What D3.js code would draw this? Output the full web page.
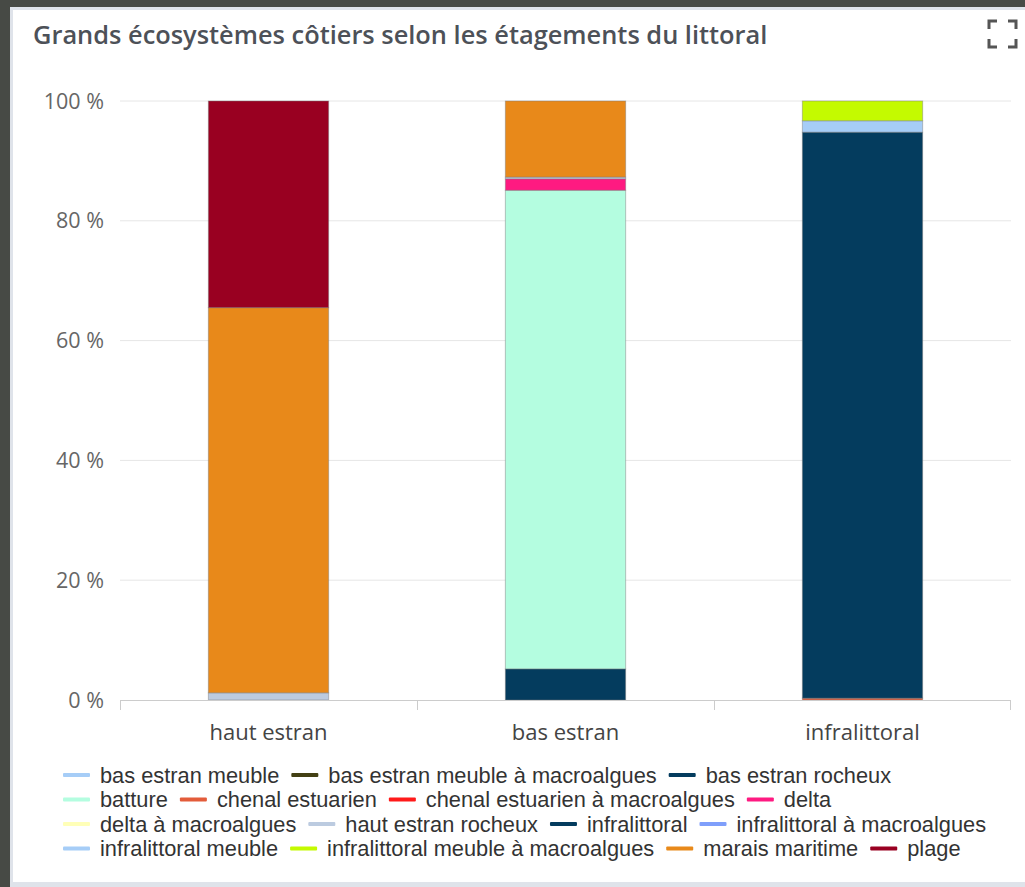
<!DOCTYPE html>
<html>
<head>
<meta charset="utf-8">
<script src="https://cdn.jsdelivr.net/npm/d3@7"></script>
<style>
  body { margin: 0; background: #474a45; }
  svg { display: block; }
</style>
</head>
<body>
<svg id="chart" width="1025" height="887"></svg>
<script>
const categories = ["haut estran", "bas estran", "infralittoral"];

const seriesNames = [
	"bas estran meuble",
	"bas estran meuble à macroalgues",
	"bas estran rocheux",
	"batture",
	"chenal estuarien",
	"chenal estuarien à macroalgues",
	"delta",
	"delta à macroalgues",
	"haut estran rocheux",
	"infralittoral",
	"infralittoral à macroalgues",
	"infralittoral meuble",
	"infralittoral meuble à macroalgues",
	"marais maritime",
	"plage"
];

const seriesColors = [
	"#a6cdf7", "#434014", "#043c5e", "#b4fde0", "#e35c3a",
	"#ff1a1a", "#fe1a81", "#ffffb8", "#bccbe0", "#043c5e",
	"#7f9ffb", "#a6cdf7", "#c4fa00", "#e8891a", "#990021"
];

// percentages per category, one row per series (same order as seriesNames)
const haut = [0, 0, 0, 0, 0, 0, 0, 0, 1.2, 0, 0, 0, 0, 64.3, 34.5];
const bas = [0, 0, 5.2, 79.9, 0, 0, 1.9, 0, 0.3, 0, 0, 0, 0, 12.7, 0];
const infra = [0, 0, 0, 0, 0.3, 0, 0, 0, 0, 94.5, 0, 1.9, 3.3, 0, 0];

const yTicks = [0, 20, 40, 60, 80, 100];

const svg = d3.select("#chart");
const W = 1025, H = 887;

// page frame
svg.append("rect").attr("x", 0).attr("y", 0).attr("width", W).attr("height", H).attr("fill", "#474a45");
svg.append("rect").attr("x", 10).attr("y", 7).attr("width", W).attr("height", H).attr("fill", "#dfe3ea");
svg.append("rect").attr("x", 13).attr("y", 10).attr("width", W).attr("height", 872).attr("fill", "#ffffff");

// title
svg.append("text")
	.attr("x", 33)
	.attr("y", 44)
	.attr("font-family", "'Open Sans', sans-serif")
	.attr("font-weight", 600)
	.attr("font-size", 25.4)
	.attr("fill", "#4d5158")
	.text("Grands écosystèmes côtiers selon les étagements du littoral");

// fullscreen icon
const icon = svg.append("g")
	.attr("fill", "none")
	.attr("stroke", "#555")
	.attr("stroke-width", 3);
[[989, 21, 1, 1], [1016, 21, -1, 1], [989, 47, 1, -1], [1016, 47, -1, -1]].forEach(([cx, cy, sx, sy]) => {
	icon.append("path").attr("d", `M${cx},${cy + sy * 8}V${cy}H${cx + sx * 8}`);
});

const plot = { left: 120, right: 1011, top: 101, bottom: 700 };

const x = d3.scaleBand()
	.domain(categories)
	.range([plot.left, plot.right])
	.padding(0);

const y = d3.scaleLinear()
	.domain([0, 100])
	.range([plot.bottom, plot.top]);

// gridlines
svg.append("g")
	.selectAll("line")
	.data(yTicks.filter(d => d > 0))
	.join("line")
	.attr("x1", plot.left)
	.attr("x2", plot.right)
	.attr("y1", d => y(d))
	.attr("y2", d => y(d))
	.attr("stroke", "#e6e6e6")
	.attr("stroke-width", 1);

// y labels
svg.append("g")
	.selectAll("text")
	.data(yTicks)
	.join("text")
	.attr("x", 104)
	.attr("y", d => y(d) + 7.5)
	.attr("text-anchor", "end")
	.attr("font-family", "'Open Sans', sans-serif")
	.attr("font-size", 21.5)
	.attr("fill", "#666")
	.text(d => `${d} %`);

// stacked bars
const table = categories.map((c, i) => {
	const row = { category: c };
	const vals = [haut, bas, infra][i];
	seriesNames.forEach((s, j) => { row[s] = vals[j]; });
	return row;
});

const stack = d3.stack().keys(seriesNames)(table);
const barWidth = x.bandwidth() * 0.405;

svg.append("g")
	.selectAll("g")
	.data(stack)
	.join("g")
	.attr("fill", (d, i) => seriesColors[i])
	.selectAll("rect")
	.data(d => d.filter(p => p[1] - p[0] > 0))
	.join("rect")
	.attr("x", d => x(d.data.category) + (x.bandwidth() - barWidth) / 2)
	.attr("y", d => y(d[1]))
	.attr("width", barWidth)
	.attr("height", d => y(d[0]) - y(d[1]))
	.attr("stroke", "rgba(120,120,120,0.45)")
	.attr("stroke-width", 1);

// x axis
const xAxis = svg.append("g");
xAxis.append("line")
	.attr("x1", plot.left)
	.attr("x2", plot.right)
	.attr("y1", plot.bottom + 0.5)
	.attr("y2", plot.bottom + 0.5)
	.attr("stroke", "#ccc");

const edges = categories.map(c => x(c)).concat([x.range()[1] - 1]);
xAxis.selectAll(".tick")
	.data(edges)
	.join("line")
	.attr("class", "tick")
	.attr("x1", d => Math.round(d) + 0.5)
	.attr("x2", d => Math.round(d) + 0.5)
	.attr("y1", plot.bottom)
	.attr("y2", plot.bottom + 10)
	.attr("stroke", "#ccc");

xAxis.selectAll("text")
	.data(categories)
	.join("text")
	.attr("x", d => x(d) + x.bandwidth() / 2)
	.attr("y", 740)
	.attr("text-anchor", "middle")
	.attr("font-family", "'Open Sans', sans-serif")
	.attr("font-size", 22)
	.attr("fill", "#444")
	.text(d => d);

// legend
const legend = svg.append("g")
	.attr("font-family", "'Liberation Sans', Arial, sans-serif")
	.attr("font-size", 21.8)
	.attr("fill", "#333");

const legendLeft = 63, legendTop = 775, rowH = 24.5, maxRow = 935;
let lx = 0, ly = 0;
seriesNames.forEach((name, i) => {
	const item = legend.append("g");
	item.append("rect")
		.attr("x", 0).attr("y", -2)
		.attr("width", 27).attr("height", 4)
		.attr("rx", 1)
		.attr("fill", seriesColors[i]);
	const t = item.append("text")
		.attr("x", 37)
		.attr("y", 7.5)
		.text(name);
	const w = 37 + t.node().getComputedTextLength();
	if (lx > 0 && lx + w > maxRow) {
		lx = 0;
		ly += 1;
	}
	item.attr("transform", `translate(${legendLeft + lx},${legendTop + ly * rowH})`);
	lx += w + 12;
});
</script>
</body>
</html>
